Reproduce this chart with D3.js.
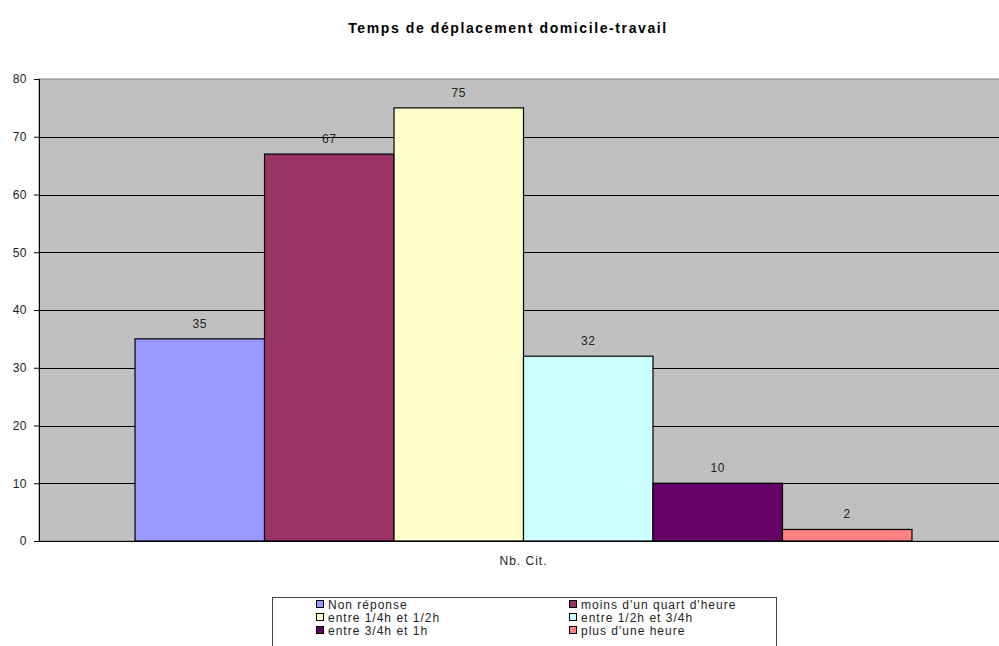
<!DOCTYPE html>
<html>
<head>
<meta charset="utf-8">
<script src="https://cdn.jsdelivr.net/npm/d3@7"></script>
<style>
body { margin: 0; background: #fff; }
text { font-family: "Liberation Sans", Arial, sans-serif; }
</style>
</head>
<body>
<svg id="chart"></svg>
<script>
var categories = ["Nb. Cit."];
var series = ["Non réponse", "moins d'un quart d'heure", "entre 1/4h et 1/2h",
              "entre 1/2h et 3/4h", "entre 3/4h et 1h", "plus d'une heure"];
var values = [35, 67, 75, 32, 10, 2];
var colors = ["#9999FF", "#993366", "#FFFFCC", "#CCFFFF", "#660066", "#FF8080"];
var yTicks = [0, 10, 20, 30, 40, 50, 60, 70, 80];

var W = 999, H = 646;
var margin = {top: 79, right: -9, bottom: 105, left: 39};
var width = W - margin.left - margin.right,
    height = H - margin.top - margin.bottom;

var svg = d3.select("#chart").attr("width", W).attr("height", H);

svg.append("text")
  .attr("x", 508).attr("y", 33)
  .attr("text-anchor", "middle")
  .style("font-size", "14px").style("font-weight", "bold")
  .style("letter-spacing", "1.6px")
  .text("Temps de déplacement domicile-travail");

var g = svg.append("g")
  .attr("transform", "translate(" + margin.left + "," + margin.top + ")");

var y = d3.scaleLinear().domain([0, 80]).range([height, 0]);
var x0 = d3.scaleBand().domain(categories).range([0, width])
  .paddingInner(0).paddingOuter(0.1236);
var x1 = d3.scaleBand().domain(series).range([0, x0.bandwidth()]);

g.append("rect")
  .attr("width", width).attr("height", height)
  .attr("fill", "#C0C0C0").attr("stroke", "#808080");

g.selectAll(".grid")
  .data(yTicks.filter(function(d){ return d > 0 && d < 80; }))
  .enter().append("line")
  .attr("x1", 0).attr("x2", width)
  .attr("y1", function(d){ return Math.round(y(d)) + 0.5; })
  .attr("y2", function(d){ return Math.round(y(d)) + 0.5; })
  .attr("stroke", "#000");

var grp = g.selectAll(".grp")
  .data(categories).enter().append("g")
  .attr("transform", function(d){ return "translate(" + x0(d) + ",0)"; });

grp.selectAll("rect")
  .data(values)
  .enter().append("rect")
  .attr("x", function(d, i){ return x1(series[i]); })
  .attr("y", function(d){ return y(d); })
  .attr("width", x1.bandwidth())
  .attr("height", function(d){ return height - y(d); })
  .attr("fill", function(d, i){ return colors[i]; })
  .attr("stroke", "#000").attr("stroke-width", 1.2);

grp.selectAll(".lbl")
  .data(values)
  .enter().append("text")
  .attr("x", function(d, i){ return x1(series[i]) + x1.bandwidth() / 2; })
  .attr("y", function(d){ return y(d) - 11; })
  .attr("text-anchor", "middle")
  .style("font-size", "12px").style("fill", "#222")
  .style("letter-spacing", "0.5px")
  .text(function(d){ return d; });

var yAxis = d3.axisLeft(y).tickValues(yTicks).tickSize(5).tickPadding(7);
var ya = g.append("g").call(yAxis);
ya.select(".domain").attr("stroke", "#000");
ya.selectAll("text").style("font-size", "12px").style("fill", "#222")
  .style("letter-spacing", "0.5px");

var xAxis = d3.axisBottom(x0).tickSize(0).tickPadding(15);
var xa = g.append("g").attr("transform", "translate(0," + height + ")").call(xAxis);
xa.select(".domain").attr("d", "M0,0.5H" + width).attr("stroke", "#000");
xa.selectAll("text").style("font-size", "12px").style("fill", "#222")
  .style("letter-spacing", "1px");

// legend
var leg = svg.append("g").attr("transform", "translate(272,597)");
leg.append("rect").attr("x", 0.5).attr("y", 0.5).attr("width", 504).attr("height", 60)
  .attr("fill", "#fff").attr("stroke", "#444");
var items = leg.selectAll(".item").data(series).enter().append("g")
  .attr("transform", function(d, i){
    return "translate(" + (i % 2 === 0 ? 44 : 297) + "," + (3 + Math.floor(i / 2) * 13) + ")";
  });
items.append("rect").attr("x", 0.5).attr("y", 0.5).attr("width", 7).attr("height", 7)
  .attr("fill", function(d, i){ return colors[i]; }).attr("stroke", "#000");
items.append("text").attr("x", 12).attr("y", 8.5)
  .style("font-size", "12px").style("fill", "#222")
  .style("letter-spacing", "1px")
  .text(function(d){ return d; });
</script>
</body>
</html>
